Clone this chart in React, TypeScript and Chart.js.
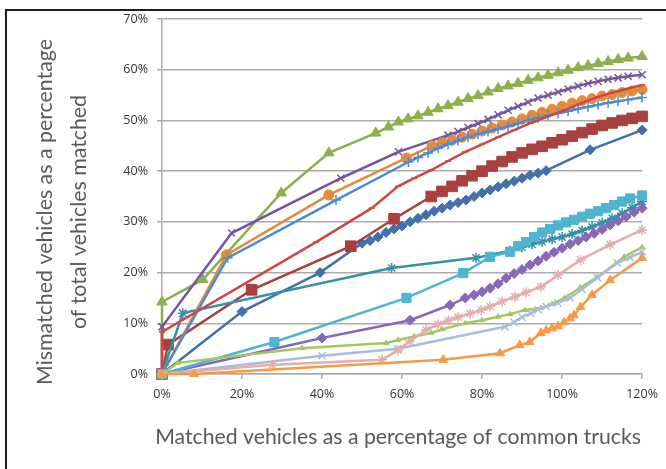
import React, { useEffect, useRef } from 'react';
import { Chart, registerables } from 'chart.js';

Chart.register(...registerables);

// ---- axes / labels ----
const xTickValues = [0, 20, 40, 60, 80, 100, 120];
const yTickValues = [0, 10, 20, 30, 40, 50, 60, 70];
const xTitle = 'Matched vehicles as a percentage of common trucks';
const yTitle = ['Mismatched vehicles as a percentage', 'of total vehicles matched'];

// ---- series (x = matched %, y = mismatched %) ----
// 1 dark blue, diamonds
const s1X = [0, 20, 39.5, 50, 52, 54, 56, 58, 60, 62, 64, 66, 68, 70, 72, 74, 76, 78, 80, 82, 84, 86, 88, 90, 92, 94, 96, 107, 120];
const s1Y = [0, 12.3, 20, 25.8, 26.3, 27, 27.9, 28.6, 29.2, 30, 30.7, 31.4, 32.1, 32.7, 33.3, 33.8, 34.3, 35, 35.7, 36.3, 36.9, 37.5, 38, 38.6, 39.2, 39.6, 40.1, 44.2, 48.1];
// 2 dark red, squares
const s2X = [0, 1.5, 22.4, 47.2, 58, 67.3, 70, 72.5, 75, 77.5, 80, 82.5, 85, 87.5, 90, 92.5, 95, 97.5, 100, 102.5, 105, 107.5, 110, 112.5, 115, 117.5, 120];
const s2Y = [0, 5.8, 16.6, 25.2, 30.6, 35, 36, 37, 38.1, 39.1, 40, 41, 41.9, 42.8, 43.6, 44.3, 44.9, 45.6, 46.2, 46.9, 47.6, 48.3, 49, 49.5, 50, 50.4, 50.8];
// 3 green, triangles (top)
const s3X = [0, 0, 10.2, 29.8, 41.7, 53.4, 56.6, 59.1, 61.5, 64, 66.5, 69, 71.5, 74, 76.5, 79, 81.5, 84, 86.5, 89, 91.5, 94, 96.5, 99, 101.5, 104, 106.5, 109, 111.5, 114, 116.5, 120];
const s3Y = [0, 14.2, 18.6, 35.7, 43.6, 47.5, 48.7, 49.7, 50.3, 50.9, 51.6, 52.3, 52.9, 53.6, 54.3, 54.9, 55.6, 56.3, 56.8, 57.3, 57.9, 58.4, 58.9, 59.4, 59.9, 60.4, 60.8, 61.2, 61.6, 62, 62.3, 62.6];
// 4 purple, x markers (top)
const s4X = [0, 0, 17.4, 44.7, 59.1, 71.5, 74, 76.5, 79, 81.5, 84, 86.5, 89, 91.5, 94, 96.5, 99, 101.5, 104, 106.5, 109, 111.5, 114, 116.5, 120];
const s4Y = [0, 9.3, 27.8, 38.6, 43.8, 47.1, 47.8, 48.6, 49.4, 50.2, 51.1, 52, 52.8, 53.6, 54.4, 55, 55.6, 56.2, 56.8, 57.3, 57.7, 58.1, 58.4, 58.7, 59];
// 5 teal, stars
const s5X = [0, 5.2, 57.4, 78.5, 87, 90, 92.5, 95, 97.5, 100, 102.5, 105, 107.5, 110, 112.5, 115, 117.5, 120];
const s5Y = [0, 12, 20.9, 22.9, 24.3, 25, 25.6, 26.1, 26.6, 27, 27.6, 28.3, 29, 29.8, 30.7, 31.7, 32.8, 34];
// 6 orange, circles
const s6X = [0, 16.1, 41.7, 61.1, 67.5, 70, 72.5, 75, 77.5, 80, 82.5, 85, 87.5, 90, 92.5, 95, 97.5, 100, 102.5, 105, 107.5, 110, 112.5, 115, 117.5, 120];
const s6Y = [0, 23.5, 35.3, 42.6, 45, 45.6, 46.1, 46.7, 47.3, 47.9, 48.5, 49.1, 49.7, 50.3, 51, 51.6, 52.2, 52.8, 53.4, 53.9, 54.3, 54.8, 55.1, 55.5, 55.8, 56.1];
// 7 blue, plus markers
const s7X = [0, 16.4, 43.5, 61.6, 64, 66.5, 69, 71.5, 74, 76.5, 79, 81.5, 84, 86.5, 89, 91.5, 94, 96.5, 99, 101.5, 104, 106.5, 109, 111.5, 114, 116.5, 120];
const s7Y = [0, 22.9, 34.3, 41.8, 42.7, 43.6, 44.5, 45.3, 46, 46.7, 47.3, 47.8, 48.3, 48.8, 49.4, 50, 50.5, 51, 51.4, 51.8, 52.3, 52.7, 53.1, 53.5, 53.8, 54.1, 54.5];
// 8 red, dash markers
const s8X = [0, 0, 38.5, 52.4, 59, 63, 67.3, 71.5, 75.8, 80, 84, 88, 92.2, 96.5, 100.6, 104.5, 108.8, 114, 120];
const s8Y = [0, 8.3, 26, 32.7, 37, 38.6, 40.2, 42, 43.8, 45.3, 46.7, 48.1, 49.5, 50.8, 52, 53.3, 54.6, 55.8, 57];
// 9 purple, diamonds (lower)
const s9X = [0, 40, 62, 72, 75.8, 78, 80, 82, 84, 86, 88, 90, 92, 94, 96, 98, 100, 102, 104, 106, 108, 110, 112, 114, 116, 118, 120];
const s9Y = [0, 7.1, 10.6, 13.6, 15, 15.6, 16.2, 16.9, 17.8, 18.9, 19.8, 20.6, 21.5, 22.3, 23.2, 24, 24.8, 25.6, 26.3, 27, 27.7, 28.5, 29.4, 30.2, 31, 31.9, 32.7];
// 10 light blue, squares
const s10X = [0, 28.1, 61.1, 75.3, 82, 87, 89, 91, 93, 95, 97, 99, 101, 103, 105, 107, 109, 111, 113, 115, 117, 120];
const s10Y = [0, 6.3, 15, 19.9, 23.1, 24.1, 25.2, 26, 27, 27.9, 28.6, 29.3, 29.9, 30.4, 31, 31.6, 32.1, 32.7, 33.3, 34, 34.6, 35.2];
// 11 green, small triangles (lower)
const s11X = [0, 4, 35, 56, 59, 63, 67.3, 70, 75.8, 80, 84, 87, 90.7, 94.7, 97.5, 100.6, 104.5, 108.8, 115.5, 120];
const s11Y = [0, 2.2, 5.1, 6.1, 6.7, 7.4, 8.1, 8.8, 10, 10.6, 11.3, 11.8, 12.6, 13, 13.8, 15, 17, 19.1, 23.1, 25];
// 12 lavender, x markers
const s12X = [0, 40, 59, 85.7, 88, 90, 92.2, 94, 96, 98.9, 102, 105, 108.8, 113.8, 117, 120];
const s12Y = [0, 3.6, 5, 9.3, 10.2, 11.2, 12, 12.7, 13.3, 14, 15, 16.7, 19, 21.9, 23, 24.1];
// 13 pink, stars
const s13X = [0, 27.6, 55, 59, 62, 66, 69, 71.6, 74, 77, 79.8, 82, 85, 88.2, 91, 94.7, 99, 104.6, 112, 120];
const s13Y = [0, 1.8, 2.8, 4.7, 6.5, 8.7, 9.8, 10.6, 11.2, 11.9, 12.6, 13.3, 14.3, 15.2, 16.1, 17.2, 19.5, 22.5, 25.5, 28.4];
// 14 orange, triangles (lower)
const s14X = [0, 8, 70.3, 84.5, 89.4, 91.9, 94.7, 96, 97.5, 99, 100.5, 102, 103, 104.6, 107.5, 112, 120];
const s14Y = [0, 0, 2.8, 4.1, 5.7, 6.3, 8.1, 8.6, 9, 9.4, 10.2, 11, 11.6, 13.2, 15.6, 18.5, 22.9];

type Series = { xs: number[]; ys: number[]; color: string; style: any; r: number };

const seriesList: Series[] = [
  { xs: s1X, ys: s1Y, color: '#4170AC', style: 'rectRot', r: 5 },
  { xs: s2X, ys: s2Y, color: '#A8403E', style: 'rect', r: 7.5 },
  { xs: s3X, ys: s3Y, color: '#8DB04A', style: 'triangle', r: 6 },
  { xs: s4X, ys: s4Y, color: '#7655A0', style: 'crossRot', r: 5 },
  { xs: s5X, ys: s5Y, color: '#3590A8', style: 'star', r: 5 },
  { xs: s6X, ys: s6Y, color: '#E38B3B', style: 'circle', r: 5 },
  { xs: s7X, ys: s7Y, color: '#4E8BD0', style: 'cross', r: 5 },
  { xs: s8X, ys: s8Y, color: '#D04545', style: 'line', r: 3 },
  { xs: s9X, ys: s9Y, color: '#8868B8', style: 'rectRot', r: 5 },
  { xs: s10X, ys: s10Y, color: '#4FB5CF', style: 'rect', r: 6.5 },
  { xs: s11X, ys: s11Y, color: '#A3C85F', style: 'triangle', r: 3 },
  { xs: s12X, ys: s12Y, color: '#A9BCDD', style: 'crossRot', r: 5 },
  { xs: s13X, ys: s13Y, color: '#E3AFAE', style: 'star', r: 5 },
  { xs: s14X, ys: s14Y, color: '#F89A45', style: 'triangle', r: 5 },
];

const GRID = '#ABABAB';
const TICK_FONT = { family: "'Open Sans', sans-serif", size: 12.5 };
const TITLE_FAMILY = "Lato, 'Open Sans', sans-serif";

function fitFont(ctx: CanvasRenderingContext2D, text: string, width: number) {
  ctx.font = `20px ${TITLE_FAMILY}`;
  const w = ctx.measureText(text).width;
  const size = (20 * width) / w;
  ctx.font = `${size}px ${TITLE_FAMILY}`;
}

const titlePlugin = {
  id: 'axisTitles',
  afterDraw(chart: any) {
    const ctx: CanvasRenderingContext2D = chart.ctx;
    const area = chart.chartArea;
    ctx.save();
    ctx.fillStyle = '#5A5A5A';
    ctx.textAlign = 'center';
    ctx.textBaseline = 'middle';
    fitFont(ctx, xTitle, 486);
    ctx.fillText(xTitle, (area.left + area.right) / 2 - 4, 437);
    ctx.translate(0, 212);
    ctx.rotate(-Math.PI / 2);
    fitFont(ctx, yTitle[0], 346);
    const size = parseFloat(ctx.font);
    ctx.fillText(yTitle[0], 0, 45);
    ctx.font = `${size}px ${TITLE_FAMILY}`;
    ctx.fillText(yTitle[1], 0, 79);
    ctx.restore();
  },
};

export default function App() {
  const ref = useRef<HTMLCanvasElement | null>(null);

  useEffect(() => {
    document.body.style.margin = '0';
    if (!ref.current) return;
    const n = seriesList.length;
    const datasets = seriesList.map((s, i) => ({
      data: s.xs.map((x, k) => ({ x, y: s.ys[k] })),
      borderColor: s.color,
      backgroundColor: s.color,
      borderWidth: 2.5,
      pointStyle: s.style,
      pointRadius: s.r,
      pointBorderWidth: s.style === 'cross' || s.style === 'crossRot' || s.style === 'star' || s.style === 'line' ? 1.5 : 1,
      pointBorderColor: s.color,
      pointBackgroundColor: s.color,
      tension: 0,
      clip: false as any,
      order: n - i,
    }));

    const chart = new Chart(ref.current, {
      type: 'line',
      data: { datasets },
      plugins: [titlePlugin],
      options: {
        animation: false,
        responsive: false,
        devicePixelRatio: 1,
        layout: { padding: { left: 0, right: 21, top: 19, bottom: 0 } },
        plugins: { legend: { display: false }, tooltip: { enabled: false } },
        scales: {
          x: {
            type: 'linear',
            min: 0,
            max: 120,
            afterBuildTicks: (scale: any) => {
              scale.ticks = xTickValues.map((v) => ({ value: v }));
            },
            afterFit: (scale: any) => {
              scale.height = 95;
            },
            grid: { drawOnChartArea: false, drawTicks: true, tickLength: 5, color: GRID, lineWidth: 1.5 },
            border: { display: true, color: GRID, width: 1.5 },
            ticks: {
              padding: 8,
              color: '#333333',
              font: TICK_FONT,
              maxRotation: 0,
              callback: (v: any) => `${v}%`,
            },
          },
          y: {
            type: 'linear',
            min: 0,
            max: 70,
            afterBuildTicks: (scale: any) => {
              scale.ticks = yTickValues.map((v) => ({ value: v }));
            },
            afterFit: (scale: any) => {
              scale.width = 162;
            },
            grid: { drawTicks: true, tickLength: 5, color: GRID, lineWidth: 1.5 },
            border: { display: true, color: GRID, width: 1.5 },
            ticks: {
              padding: 9,
              color: '#333333',
              font: TICK_FONT,
              callback: (v: any) => `${v}%`,
            },
          },
        },
      },
    });
    return () => chart.destroy();
  }, []);

  return (
    <div style={{ position: 'fixed', left: 0, top: 0, width: 666, height: 469, background: '#fff' }}>
      <canvas ref={ref} width={666} height={469} style={{ width: 666, height: 469, display: 'block' }} />
      <div
        style={{
          position: 'absolute',
          left: 5,
          top: 9,
          right: 0,
          bottom: 0,
          borderTop: '2px solid #1E1E1E',
          borderLeft: '2px solid #1E1E1E',
          pointerEvents: 'none',
        }}
      />
    </div>
  );
}
